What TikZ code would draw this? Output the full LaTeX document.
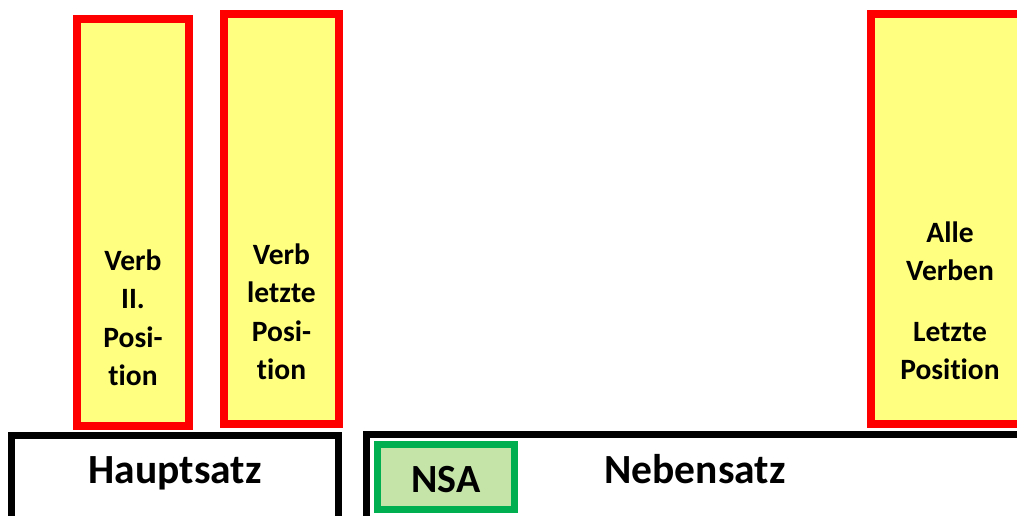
\documentclass[tikz,border=0pt]{standalone}
\usepackage{fontspec}
\setmainfont[Ligatures={NoCommon}]{Carlito}
\usepackage{xcolor}
\definecolor{slotred}{HTML}{FF0000}
\definecolor{slotyellow}{HTML}{FFFF80}
\definecolor{nsagreen}{HTML}{00B050}
\definecolor{nsafill}{HTML}{C5E4A8}
\usepackage{tikz}
\usetikzlibrary{positioning}
\tikzset{
  slotbox/.style={draw=slotred, fill=slotyellow, line width=8pt, inner sep=0pt, outer sep=0pt},
  satzbox/.style={draw=black, fill=white, line width=7pt, inner sep=0pt, outer sep=0pt},
  nsabox/.style={draw=nsagreen, fill=nsafill, line width=7pt, inner sep=0pt, outer sep=0pt},
  verblbl/.style={font=\bfseries\fontsize{29.5}{38.5}\selectfont, align=center, inner sep=0pt},
  satzlbl/.style={font=\bfseries\fontsize{41.5}{48}\selectfont, inner sep=0pt},
}

\begin{document}
\begin{tikzpicture}[x=1pt, y=-1pt]
\clip (0,0) rectangle (1017,515);
\useasboundingbox (0,0) rectangle (1017,515);
% verb slots
\node[slotbox, minimum width=112pt, minimum height=407pt] (zweit) at (133,222.5) {};
\node[slotbox, minimum width=115pt, minimum height=410pt] (letzt) at (281.5,219) {};
\node[slotbox, minimum width=158pt, minimum height=410pt] (alle) at (950,219) {};
\node[verblbl] (zweitlbl) at (133,317.5) {Verb\\II.\\Posi-\\tion};
\node[verblbl] (letztlbl) at (281.5,311.5) {Verb\\letzte\\Posi-\\tion};
\node[verblbl] (allelbl) at (950,300.5) {Alle\\Verben\\[22pt]Letzte\\Position};
% clause boxes
\node[satzbox, minimum width=327pt, minimum height=87pt] (haupt) at (175,479) {};
\node[satzbox, minimum width=663pt, minimum height=87pt] (neben) at (698,478) {};
\node[nsabox, minimum width=137pt, minimum height=65pt] (nsa) at (446,477) {};
\node[satzlbl, anchor=base] (hauptlbl) at (175,483) {Hauptsatz};
\node[satzlbl, anchor=base] (nebenlbl) at (695,483) {Nebensatz};
\node[satzlbl, anchor=base, font=\bfseries\fontsize{40}{48}\selectfont] (nsalbl) at (446,492) {NSA};
\end{tikzpicture}
\end{document}
